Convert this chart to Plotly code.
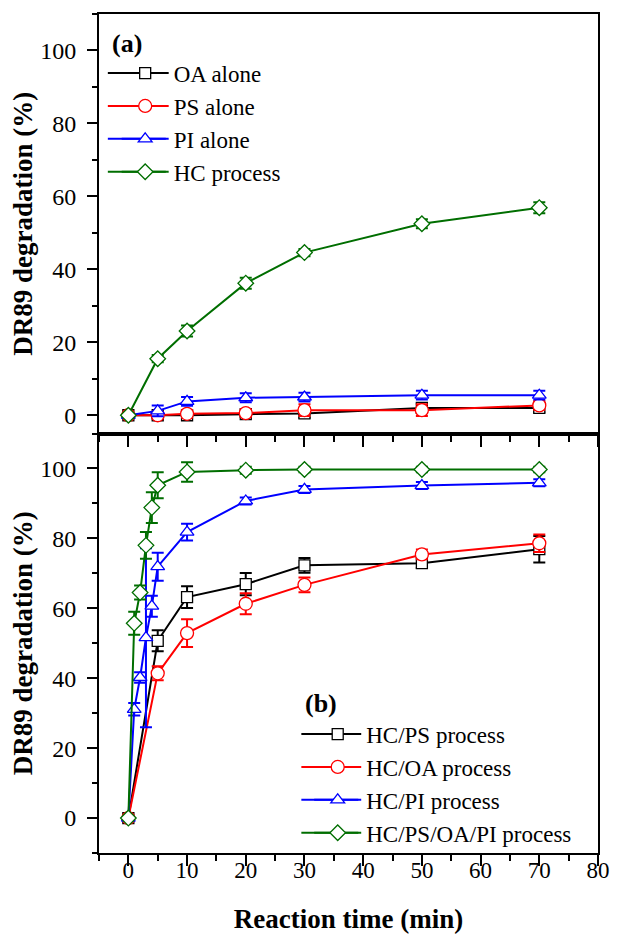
import plotly.graph_objects as go
from plotly.subplots import make_subplots

# ---------------- data ----------------
time_a = [0, 5, 10, 20, 30, 50, 70]
oa_alone = [0, 0, 0, 0.3, 0.5, 2.0, 2.0]
oa_alone_err = [0.3, 0.8, 0.8, 0.8, 1.2, 1.2, 1.2]
ps_alone = [0, 0, 0.4, 0.6, 1.4, 1.4, 2.7]
ps_alone_err = [0.3, 0.8, 1.0, 1.0, 1.6, 1.6, 1.2]
pi_alone = [0, 1.2, 3.8, 4.8, 5.0, 5.5, 5.5]
pi_alone_err = [0.3, 1.5, 1.2, 1.2, 1.2, 1.2, 1.2]
hc_alone = [0, 15.5, 23.1, 36.2, 44.6, 52.5, 56.9]
hc_alone_err = [0.3, 1.0, 1.5, 1.5, 1.0, 1.2, 1.5]

time_b_short = [0, 5, 10, 20, 30, 50, 70]
time_b_full = [0, 1, 2, 3, 4, 5, 10, 20, 30, 50, 70]
hc_ps = [0, 50.7, 63.2, 66.9, 72.3, 72.9, 76.9]
hc_ps_err = [0.3, 3.0, 3.1, 3.2, 2.1, 1.4, 3.8]
hc_oa = [0, 41.4, 52.9, 61.3, 66.7, 75.4, 78.6]
hc_oa_err = [0.3, 2.0, 4.0, 3.0, 2.1, 1.4, 2.5]
hc_pi = [0, 31.1, 40.2, 51.6, 60.6, 71.9, 81.8, 90.7, 94.0, 95.1, 95.9]
hc_pi_err = [0.3, 1.8, 1.5, 25.6, 3.0, 4.0, 2.4, 1.0, 1.0, 1.0, 1.0]
hc_all = [0, 55.7, 64.5, 78.0, 88.8, 95.2, 99.0, 99.5, 99.7, 99.7, 99.7]
hc_all_err = [0.3, 3.3, 2.0, 3.8, 4.4, 3.7, 2.8, 1.0, 0.8, 0.8, 0.8]

names_a = ["OA alone", "PS alone", "PI alone", "HC process"]
names_b = ["HC/PS process", "HC/OA process", "HC/PI process", "HC/PS/OA/PI process"]
colors = ["#000000", "#FF0000", "#0000FF", "#006E00"]
symbols = ["square", "circle", "triangle-up", "diamond"]
sizes = [11, 13, 12, 12]

FONT = "Liberation Serif"
W, H = 622, 941
ML, MR, MT, MB = 99, 15, 14, 88
PW, PH = W - ML - MR, H - MT - MB


def px_x(p):
    return (p - ML) / PW


def px_y(p):
    return (H - MB - p) / PH


fig = make_subplots(rows=2, cols=1, shared_xaxes=True, vertical_spacing=0)

series_a = [(time_a, oa_alone, oa_alone_err), (time_a, ps_alone, ps_alone_err),
            (time_a, pi_alone, pi_alone_err), (time_a, hc_alone, hc_alone_err)]
series_b = [(time_b_short, hc_ps, hc_ps_err), (time_b_short, hc_oa, hc_oa_err),
            (time_b_full, hc_pi, hc_pi_err), (time_b_full, hc_all, hc_all_err)]

for row, series, names, leg in [(1, series_a, names_a, "legend"), (2, series_b, names_b, "legend2")]:
    for i, (x, y, e) in enumerate(series):
        fig.add_trace(go.Scatter(
            x=x, y=y, name=names[i], mode="lines+markers", legend=leg,
            line=dict(color=colors[i], width=2),
            marker=dict(symbol=symbols[i], size=sizes[i], color="white",
                        line=dict(color=colors[i], width=1.3)),
            error_y=dict(type="data", array=e, visible=True, color=colors[i],
                         thickness=2, width=6),
        ), row=row, col=1)

axis_common = dict(showgrid=False, zeroline=False, showline=True, linewidth=2,
                   linecolor="black", mirror=True, ticks="outside", tickwidth=2,
                   tickcolor="black")

fig.update_xaxes(range=[-5, 80], dtick=10, tick0=0, ticklen=11, ticklabelstandoff=-16,
                 minor=dict(dtick=5, ticklen=6, tickwidth=2, ticks="outside", tickcolor="black"),
                 tickfont=dict(family=FONT, size=23, color="black"), **axis_common)
fig.update_xaxes(showticklabels=False, row=1, col=1)
fig.update_xaxes(title=dict(text="Reaction time (min)", standoff=28,
                            font=dict(family=FONT, size=27, color="black", weight="bold")),
                 row=2, col=1)

ytitle = dict(text="DR89 degradation (%)", standoff=0,
              font=dict(family=FONT, size=27, color="black", weight="bold"))
fig.update_yaxes(dtick=20, tick0=0, ticklen=10, ticklabelstandoff=6,
                 minor=dict(dtick=10, ticklen=5, tickwidth=2, ticks="outside", tickcolor="black"),
                 tickfont=dict(family=FONT, size=24, color="black"), title=ytitle, **axis_common)
fig.update_yaxes(range=[-5, 110], row=1, col=1)
fig.update_yaxes(range=[-10, 110], row=2, col=1)

LEG_SIZE = 23
ROW_H = LEG_SIZE * 1.3 + 3
legend_common = dict(font=dict(family=FONT, size=LEG_SIZE, color="black"),
                     bgcolor="rgba(0,0,0,0)", tracegroupgap=0, itemwidth=47,
                     xanchor="left", yanchor="top")

# longer legend sample lines (decoration behind the legend symbols)
shapes = []
for first_y, x0, x1 in [(73, 108, 167), (734, 305, 363)]:
    for i in range(4):
        yy = px_y(first_y + i * ROW_H)
        shapes.append(dict(type="line", xref="paper", yref="paper",
                           x0=px_x(x0), x1=px_x(x1), y0=yy, y1=yy,
                           line=dict(color=colors[i], width=2), layer="above"))

fig.update_layout(
    width=W, height=H,
    margin=dict(l=ML, r=MR, t=MT, b=MB),
    paper_bgcolor="white", plot_bgcolor="white",
    font=dict(family=FONT, color="black"),
    legend=dict(x=px_x(117), y=px_y(51.6), **legend_common),
    legend2=dict(x=px_x(313), y=px_y(712.6), **legend_common),
    shapes=shapes,
    annotations=[
        dict(text="(a)", x=px_x(110), y=px_y(44), xref="paper", yref="paper", xanchor="left",
             yanchor="middle", showarrow=False,
             font=dict(family=FONT, size=26, color="black", weight="bold")),
        dict(text="(b)", x=px_x(307), y=px_y(703), xref="paper", yref="paper", xanchor="left",
             yanchor="middle", showarrow=False,
             font=dict(family=FONT, size=26, color="black", weight="bold")),
    ],
)

fig.write_html("out.html")
